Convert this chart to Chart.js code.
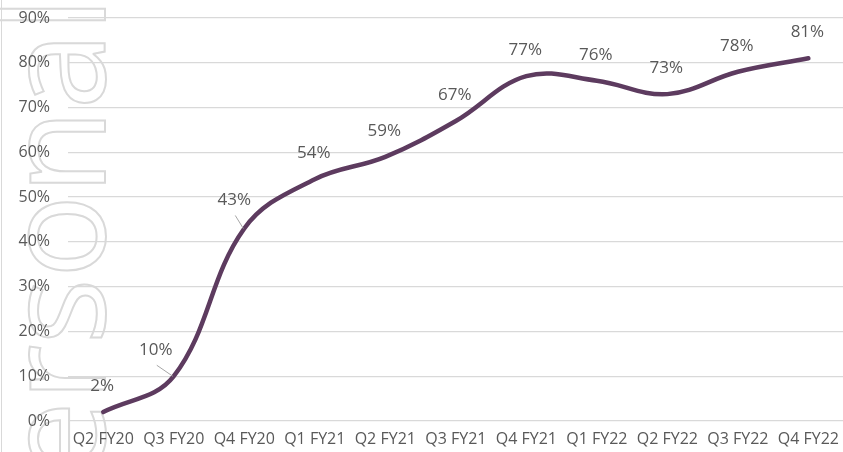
<!DOCTYPE html>
<html>
<head>
<meta charset="utf-8">
<script src="https://cdn.jsdelivr.net/npm/chart.js@4"></script>
<style>
  html, body { margin: 0; padding: 0; background: #fff; overflow: hidden; }
  #wrap { width: 848px; height: 452px; }
</style>
</head>
<body>
<div id="wrap"><canvas id="myChart" width="848" height="452"></canvas></div>
<script>
let categories = ["Q2 FY20", "Q3 FY20", "Q4 FY20", "Q1 FY21", "Q2 FY21", "Q3 FY21",
  "Q4 FY21", "Q1 FY22", "Q2 FY22", "Q3 FY22", "Q4 FY22"];
let shareValues = [2, 10, 43, 54, 59, 67, 77, 76, 73, 78, 81];
let yTickValues = [0, 10, 20, 30, 40, 50, 60, 70, 80, 90];

// labels that sit off to the left get a small leader line back to the point
let leaderLabels = { 1: [-18, -26], 2: [-10, -28] };

const textGrey = "#595959";
const gridGrey = "#d9d9d9";
const lineColor = "#5d3b5f";

// outlined "Personal" stamp on the left edge plus the thin frame line
const stampPlugin = {
  id: "stamp",
  beforeDraw(chart) {
    let ctx = chart.ctx;
    ctx.save();
    ctx.strokeStyle = gridGrey;
    ctx.lineWidth = 1;
    ctx.beginPath();
    ctx.moveTo(1.5, 0);
    ctx.lineTo(1.5, chart.height);
    ctx.stroke();

    ctx.translate(105, -3);
    ctx.rotate(-Math.PI / 2);
    ctx.font = "139px 'Open Sans'";
    ctx.textAlign = "right";
    ctx.textBaseline = "alphabetic";
    ctx.lineWidth = 2;
    ctx.strokeText("Personal", 0, 0);
    ctx.restore();
  },
};

// percentage labels above each point
const valueLabels = {
  id: "valueLabels",
  afterDatasetsDraw(chart) {
    let ctx = chart.ctx;
    let meta = chart.getDatasetMeta(0);
    ctx.save();
    ctx.font = "17px 'Open Sans'";
    ctx.fillStyle = textGrey;
    ctx.textAlign = "center";
    ctx.textBaseline = "middle";
    meta.data.forEach((pt, i) => {
      let off = leaderLabels[i] || [-1, -26];
      let lx = pt.x + off[0];
      let ly = pt.y + off[1];
      if (leaderLabels[i]) {
        ctx.strokeStyle = "#a6a6a6";
        ctx.lineWidth = 1;
        ctx.beginPath();
        ctx.moveTo(lx + 1, ly + 15);
        ctx.lineTo(pt.x - 1, pt.y);
        ctx.stroke();
      }
      ctx.fillText(shareValues[i] + "%", lx, ly);
    });
    ctx.restore();
  },
};

let chart1 = document.getElementById("myChart").getContext("2d");
const myChart = new Chart(chart1, {
  type: "line",
  data: {
    labels: categories,
    datasets: [
      {
        data: shareValues,
        borderColor: lineColor,
        borderWidth: 4.5,
        borderCapStyle: "round",
        tension: 0.38,
        pointRadius: 0,
        fill: false,
      },
    ],
  },
  options: {
    responsive: false,
    animation: false,
    layout: { padding: { top: 18, right: 0, bottom: 0, left: 0 } },
    plugins: {
      legend: { display: false },
      tooltip: { enabled: false },
    },
    scales: {
      x: {
        offset: true,
        grid: { display: false, drawTicks: false },
        border: { display: false },
        ticks: {
          color: textGrey,
          font: { family: "'Open Sans'", size: 16 },
          padding: 9,
          maxRotation: 0,
          autoSkip: false,
        },
        afterFit: (s) => { s.height = 31; },
      },
      y: {
        min: 0,
        max: 90,
        afterBuildTicks: (s) => { s.ticks = yTickValues.map((v) => ({ value: v })); },
        grid: { color: gridGrey, lineWidth: 1.3, drawTicks: false },
        border: { display: false },
        ticks: {
          color: textGrey,
          font: { family: "'Open Sans'", size: 16 },
          padding: 18,
          callback: (v) => v + "%",
        },
        afterFit: (s) => {
          s.width = 68;
          s.paddingTop = 0;
          s.paddingBottom = 0;
        },
      },
    },
  },
  plugins: [stampPlugin, valueLabels],
});
</script>
</body>
</html>
